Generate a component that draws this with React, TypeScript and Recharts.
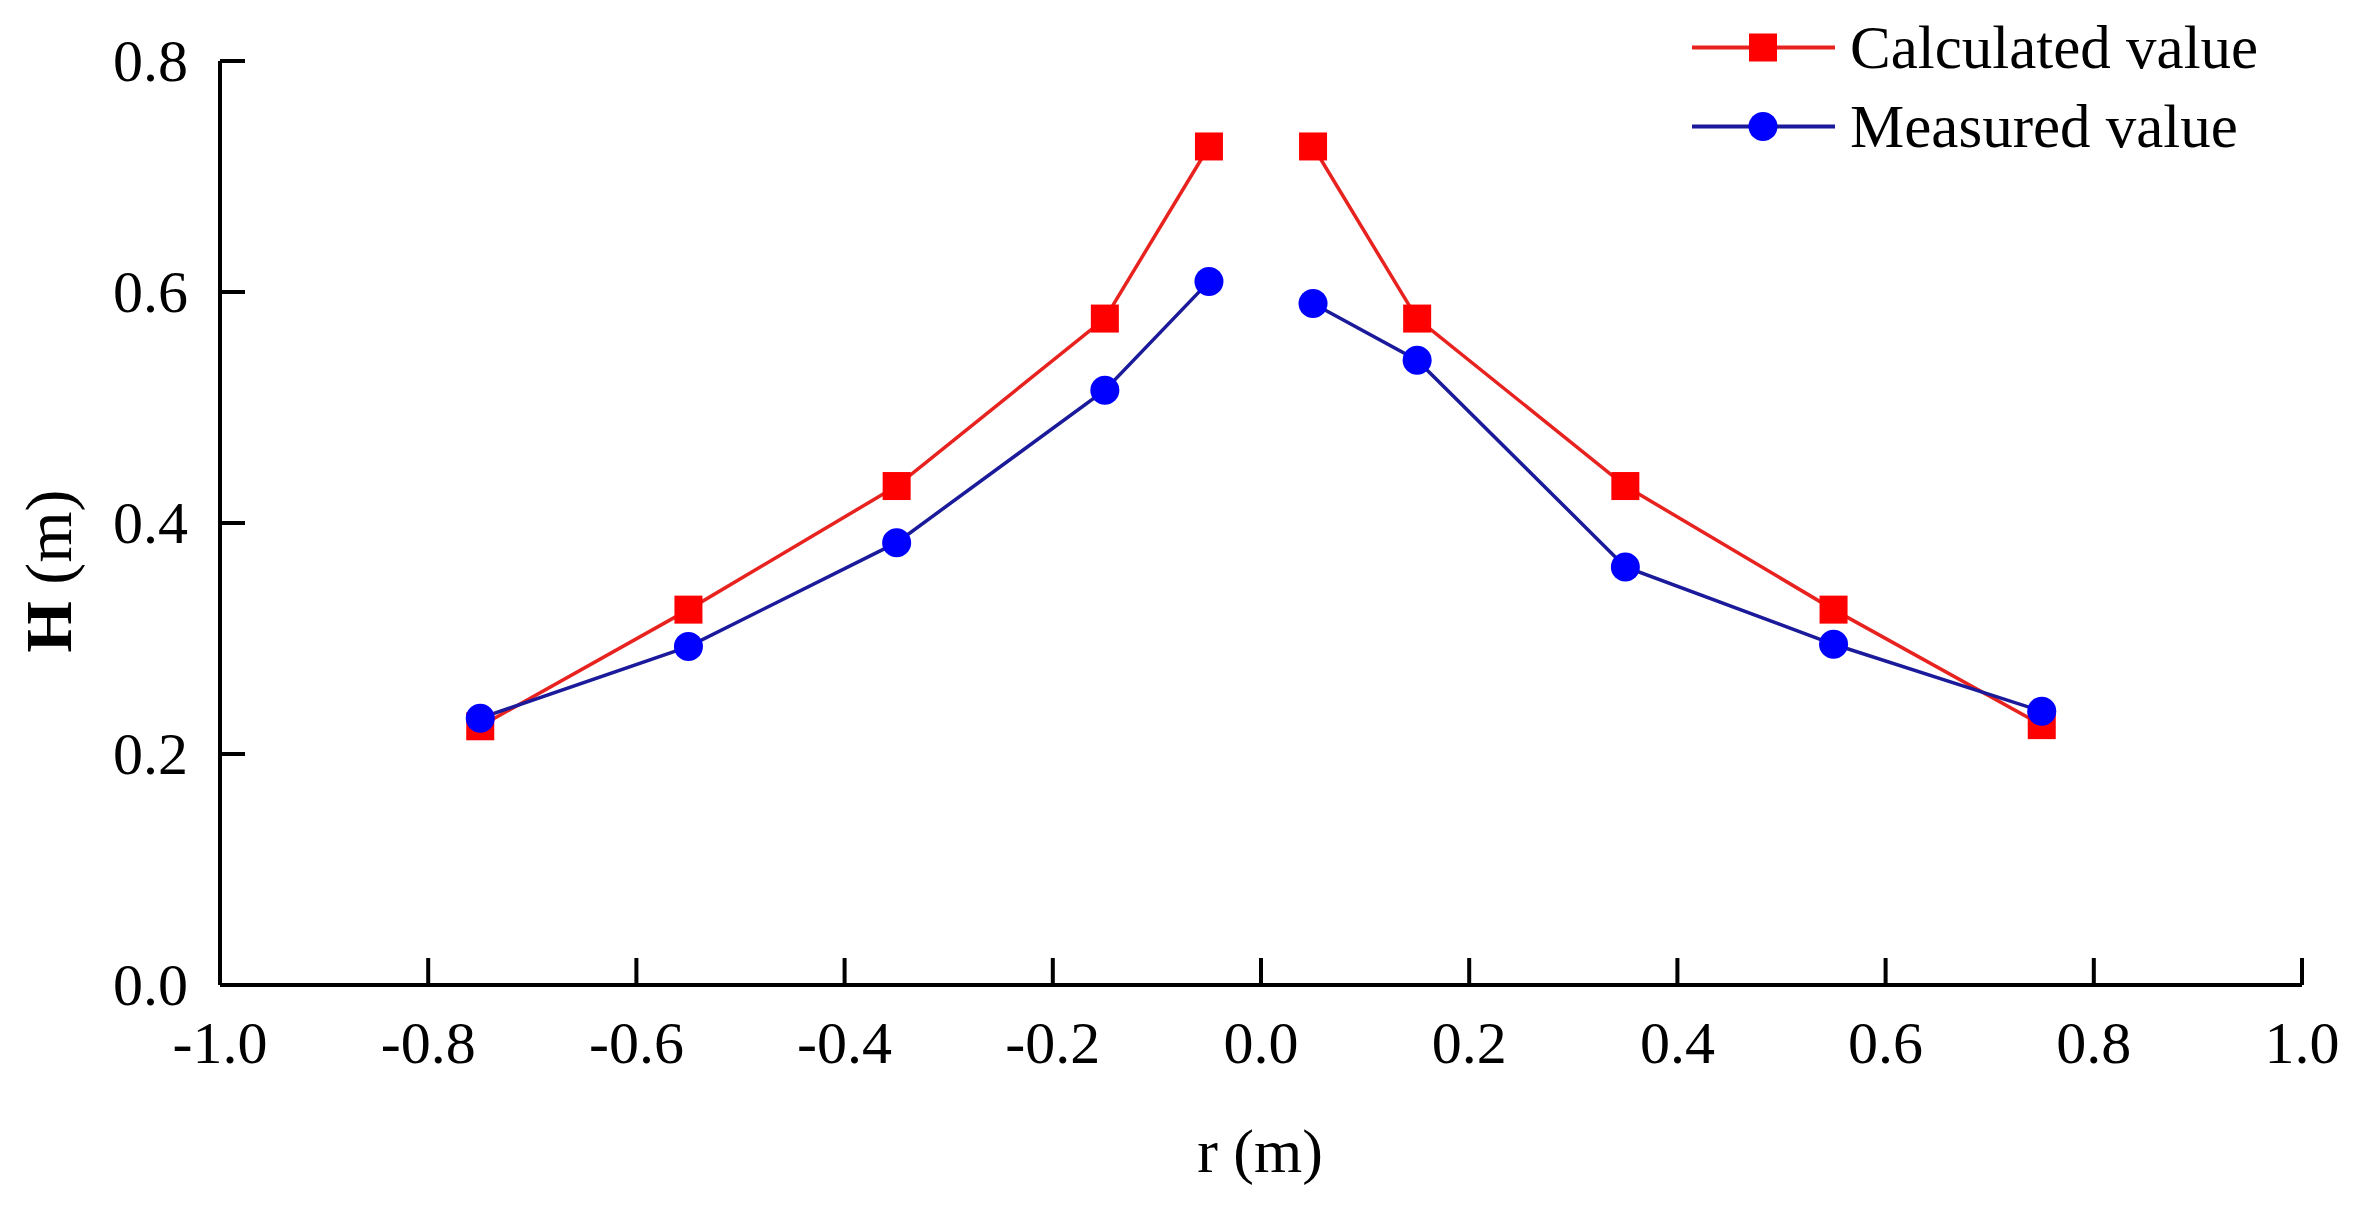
import { LineChart, Line, XAxis, YAxis, Legend } from 'recharts'

const FONT = '"Liberation Serif", "Times New Roman", serif'
const RED = '#ff0000'
const RED_LINE = '#e8231f'
const BLUE = '#0000ff'
const BLUE_LINE = '#1a1a9a'

// radial positions r (m); the null at 0 splits each curve in two
const rValues = [-0.75, -0.55, -0.35, -0.15, -0.05, 0, 0.05, 0.15, 0.35, 0.55, 0.75]
const calculated = [0.224, 0.325, 0.432, 0.577, 0.726, null, 0.726, 0.577, 0.432, 0.325, 0.225]
const measured = [0.231, 0.293, 0.383, 0.515, 0.609, null, 0.59, 0.541, 0.362, 0.295, 0.237]

const xTicks = [-1.0, -0.8, -0.6, -0.4, -0.2, 0.0, 0.2, 0.4, 0.6, 0.8, 1.0]
const yTicks = [0.0, 0.2, 0.4, 0.6, 0.8]

const data = rValues.map((r, i) => ({ r, calc: calculated[i], meas: measured[i] }))

const SquareDot = (props: any) => {
  const { cx, cy, value } = props
  if (value == null || cx == null || cy == null || isNaN(cy)) return <g />
  return <rect x={cx - 14} y={cy - 14} width={28} height={28} fill={RED} />
}

const CircleDot = (props: any) => {
  const { cx, cy, value } = props
  if (value == null || cx == null || cy == null || isNaN(cy)) return <g />
  return <circle cx={cx} cy={cy} r={14.5} fill={BLUE} />
}

const XTick = (props: any) => {
  const { x, y, payload } = props
  return (
    <g>
      <line x1={x} x2={x} y1={y} y2={y - 27} stroke="#000" strokeWidth={4} />
      <text x={x} y={y + 78} textAnchor="middle" fontFamily={FONT} fontSize={60} fill="#000">
        {Number(payload.value).toFixed(1)}
      </text>
    </g>
  )
}

const YTick = (props: any) => {
  const { x, y, payload } = props
  return (
    <g>
      <line x1={x} x2={x + 25} y1={y} y2={y} stroke="#000" strokeWidth={4} />
      <text x={x - 32} y={y + 20} textAnchor="end" fontFamily={FONT} fontSize={60} fill="#000">
        {Number(payload.value).toFixed(1)}
      </text>
    </g>
  )
}

const YLabel = () => (
  <text
    x={48}
    y={571}
    transform="rotate(-90 48 571)"
    textAnchor="middle"
    dominantBaseline="central"
    fontFamily={FONT}
    fontSize={66}
    fill="#000"
  >
    <tspan fontWeight="bold">H</tspan>
    <tspan> (m)</tspan>
  </text>
)

const XLabel = () => (
  <text x={1260} y={1172} textAnchor="middle" fontFamily={FONT} fontSize={62} fill="#000">
    r (m)
  </text>
)

const legendItems = [
  { name: 'Calculated value', line: RED_LINE, marker: 'square' },
  { name: 'Measured value', line: BLUE_LINE, marker: 'circle' },
]

const LegendContent = () => (
  <div>
    {legendItems.map((item) => (
      <div key={item.name} style={{ display: 'flex', alignItems: 'center', height: 79 }}>
        <svg width={143} height={79}>
          <line x1={0} x2={143} y1={39.5} y2={39.5} stroke={item.line} strokeWidth={4} />
          {item.marker === 'square' ? (
            <rect x={57} y={25.5} width={28} height={28} fill={RED} />
          ) : (
            <circle cx={71} cy={39.5} r={14.5} fill={BLUE} />
          )}
        </svg>
        <span
          style={{
            marginLeft: 15,
            fontFamily: FONT,
            fontSize: 61,
            lineHeight: '79px',
            color: '#000',
            whiteSpace: 'nowrap',
          }}
        >
          {item.name}
        </span>
      </div>
    ))}
  </div>
)

export default function App() {
  return (
    <div style={{ position: 'absolute', left: 0, top: 0, background: '#fff' }}>
      <LineChart width={2354} height={1206} data={data} margin={{ top: 61, right: 52, bottom: 0, left: 0 }}>
        <XAxis
          type="number"
          dataKey="r"
          domain={[-1, 1]}
          ticks={xTicks}
          interval={0}
          height={221}
          tickSize={0}
          tickMargin={0}
          tickLine={false}
          axisLine={{ stroke: '#000', strokeWidth: 4 }}
          tick={<XTick />}
          label={<XLabel />}
          allowDataOverflow
        />
        <YAxis
          type="number"
          domain={[0, 0.8]}
          ticks={yTicks}
          interval={0}
          width={220}
          tickSize={0}
          tickMargin={0}
          tickLine={false}
          axisLine={{ stroke: '#000', strokeWidth: 4 }}
          tick={<YTick />}
          label={<YLabel />}
          allowDataOverflow
        />
        <Legend
          layout="vertical"
          align="center"
          verticalAlign="middle"
          content={<LegendContent />}
          wrapperStyle={{ left: 1692, top: 8, width: 640, height: 158 }}
        />
        <Line
          dataKey="calc"
          name="Calculated value"
          stroke={RED_LINE}
          strokeWidth={3.5}
          dot={<SquareDot />}
          activeDot={false}
          connectNulls={false}
          isAnimationActive={false}
        />
        <Line
          dataKey="meas"
          name="Measured value"
          stroke={BLUE_LINE}
          strokeWidth={3.5}
          dot={<CircleDot />}
          activeDot={false}
          connectNulls={false}
          isAnimationActive={false}
        />
      </LineChart>
    </div>
  )
}
